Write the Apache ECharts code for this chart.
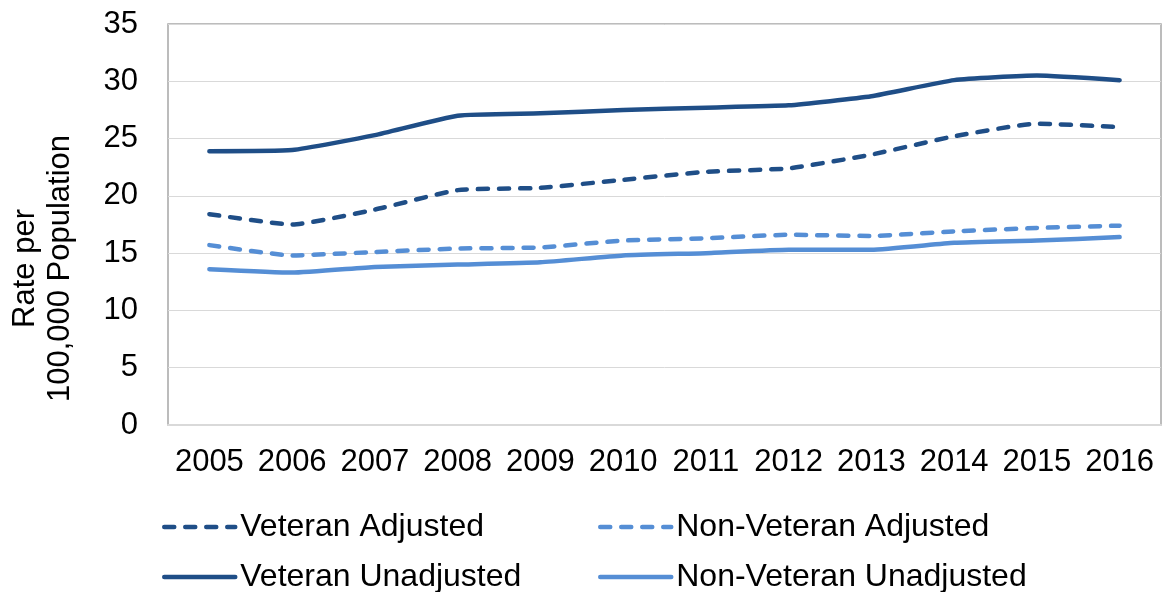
<!DOCTYPE html>
<html>
<head>
<meta charset="utf-8">
<script src="https://cdn.jsdelivr.net/npm/echarts@6/dist/echarts.min.js"></script>
<style>
html,body{margin:0;padding:0;background:#fff;}
#chart{width:1162px;height:592px;}
</style>
</head>
<body>
<div id="chart"></div>
<script>
const years = ['2005','2006','2007','2008','2009','2010','2011','2012','2013','2014','2015','2016'];
const veteranAdjusted = [18.4, 17.5, 18.8, 20.5, 20.7, 21.4, 22.1, 22.4, 23.6, 25.2, 26.3, 26.0];
const nonVeteranAdjusted = [15.7, 14.8, 15.1, 15.4, 15.5, 16.1, 16.3, 16.6, 16.5, 16.9, 17.2, 17.4];
const veteranUnadjusted = [23.9, 24.0, 25.3, 27.0, 27.2, 27.5, 27.7, 27.9, 28.7, 30.1, 30.5, 30.1];
const nonVeteranUnadjusted = [13.6, 13.3, 13.8, 14.0, 14.2, 14.8, 15.0, 15.3, 15.3, 15.9, 16.1, 16.4];
const yTicks = {min: 0, max: 35, interval: 5};
const seriesNames = ['Veteran Adjusted', 'Non-Veteran Adjusted', 'Veteran Unadjusted', 'Non-Veteran Unadjusted'];

const DARK = '#1F4E87';
const LIGHT = '#558ED5';
const FONT = '"Liberation Sans", Arial, sans-serif';
const LW = 4.5;

function mkSeries(name, data, color, dashed) {
  return {
    name: name,
    type: 'line',
    data: data,
    symbol: 'none',
    smooth: 0.15,
    lineStyle: {
      color: color,
      width: LW,
      type: dashed ? [10, 11] : 'solid',
      cap: 'round',
      join: 'round'
    },
    itemStyle: {color: color},
    emphasis: {disabled: true}
  };
}

function mkLegend(name, left, top, dashed) {
  return {
    data: [name],
    left: left,
    top: top,
    itemWidth: 71,
    itemHeight: 14,
    padding: 0,
    itemStyle: {opacity: 0},
    lineStyle: {width: LW, cap: 'round', type: dashed ? [10, 11] : 'solid'},
    textStyle: {fontSize: 32, fontFamily: FONT, color: '#000', lineHeight: 32},
    selectedMode: false
  };
}

const chart = echarts.init(document.getElementById('chart'), null, {renderer: 'canvas'});
chart.setOption({
  animation: false,
  backgroundColor: '#fff',
  grid: {
    left: 168, right: 1, top: 24, bottom: 167,
    show: true, borderColor: '#a6a6a6', borderWidth: 1.5, backgroundColor: 'transparent',
    containLabel: false
  },
  legend: [
    mkLegend(seriesNames[0], 162, 511, true),
    mkLegend(seriesNames[1], 598, 511, true),
    mkLegend(seriesNames[2], 162, 561, false),
    mkLegend(seriesNames[3], 598, 561, false)
  ],
  xAxis: {
    type: 'category',
    data: years,
    boundaryGap: true,
    axisLine: {show: true, lineStyle: {color: '#d9d9d9', width: 2}},
    axisTick: {show: false},
    axisLabel: {fontSize: 31, fontFamily: FONT, color: '#000', margin: 22, interval: 0},
    splitLine: {show: false}
  },
  yAxis: {
    type: 'value',
    min: yTicks.min, max: yTicks.max, interval: yTicks.interval,
    name: 'Rate per\n100,000 Population',
    nameLocation: 'middle',
    nameRotate: 90,
    nameGap: 90,
    nameTextStyle: {fontSize: 31, fontFamily: FONT, color: '#000', lineHeight: 35, padding: [0, 88, 0, 0]},
    axisLine: {show: false},
    axisTick: {show: false},
    axisLabel: {fontSize: 31, fontFamily: FONT, color: '#000', margin: 30},
    splitLine: {show: true, lineStyle: {color: '#d9d9d9', width: 1}}
  },
  series: [
    mkSeries(seriesNames[0], veteranAdjusted, DARK, true),
    mkSeries(seriesNames[1], nonVeteranAdjusted, LIGHT, true),
    mkSeries(seriesNames[2], veteranUnadjusted, DARK, false),
    mkSeries(seriesNames[3], nonVeteranUnadjusted, LIGHT, false)
  ]
});
</script>
</body>
</html>
